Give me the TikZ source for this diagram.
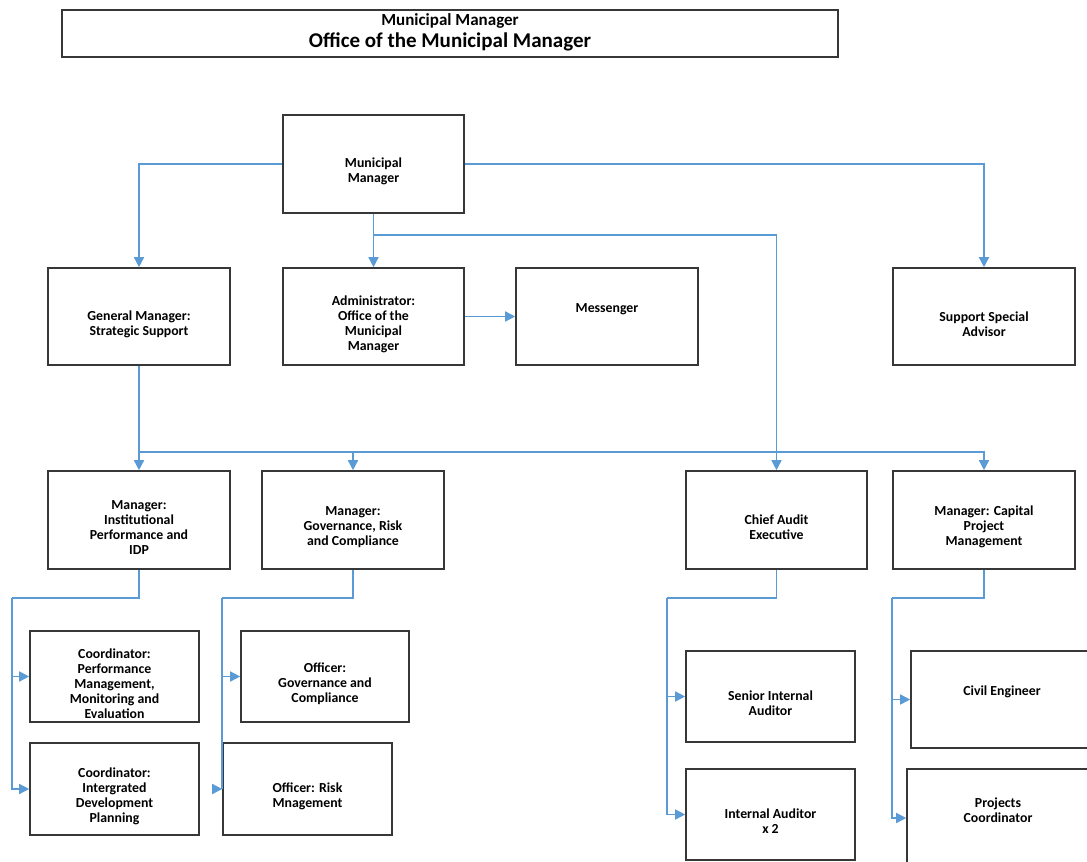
\documentclass[tikz,border=0pt]{standalone}
\usepackage{fontspec}
\setmainfont{Carlito}
\usetikzlibrary{arrows.meta}
\definecolor{linkblue}{RGB}{91,155,213}
\definecolor{boxgray}{RGB}{55,55,55}

% one organisational unit: name, x1, y1, x2, y2, caption offset (down), caption
\newcommand\orgunit[7]{%
  \node[unit, minimum width={#4-#2}, minimum height={#5-#3}] (#1) at ({(#2+#4)/2},{(#3+#5)/2}) {};
  \node[caption] (#1-t) at ([yshift={-1*(#6)}]#1.center) {#7};
}

\begin{document}
\begin{tikzpicture}[x=1pt,y=-1pt,
  unit/.style={draw=boxgray, line width=1.6pt, fill=white, rectangle, inner sep=0pt},
  caption/.style={align=center, inner sep=0pt, text=black,
    font=\bfseries\fontsize{13.8}{15}\selectfont},
  link/.style={draw=linkblue, line width=1.5pt},
  arr/.style={link, -{Triangle[length=10pt,width=10pt]}},
]
\clip (0,0) rectangle (1087,862);
\fill[white] (0,0) rectangle (1087,862);

% heading
\node[unit, minimum width=776, minimum height=47] (title) at (450,33.5) {};
\node[inner sep=0pt, font=\bfseries\fontsize{17}{20}\selectfont] (title-a) at (450,21) {Municipal Manager};
\node[inner sep=0pt, font=\bfseries\fontsize{21}{24}\selectfont] (title-b) at (450,42) {Office of the Municipal Manager};

% units
\orgunit{mm}{283}{115}{464}{213}{7}{Municipal\\Manager}
\orgunit{gm}{48}{268}{230}{365}{7.5}{General Manager:\\Strategic Support}
\orgunit{adm}{283}{268}{464}{365}{7.5}{Administrator:\\Office of the\\Municipal\\Manager}
\orgunit{msg}{516}{268}{698}{365}{-7.5}{Messenger}
\orgunit{ssa}{893}{268}{1075}{365}{7.5}{Support Special\\Advisor}
\orgunit{ip}{48}{471}{230}{569}{7.5}{Manager:\\Institutional\\Performance and\\IDP}
\orgunit{grc}{262}{471}{444}{569}{7}{Manager:\\Governance, Risk\\and Compliance}
\orgunit{cae}{686}{471}{867}{569}{7.5}{Chief Audit\\Executive}
\orgunit{cpm}{893}{471}{1075}{569}{7}{Manager: Capital\\Project\\Management}
\orgunit{pmme}{30}{631}{199}{722}{7}{Coordinator:\\Performance\\Management,\\Monitoring and\\Evaluation}
\orgunit{idp}{30}{743}{199}{835}{7}{Coordinator:\\Intergrated\\Development\\Planning}
\orgunit{ogc}{241}{631}{409}{722}{7.5}{Officer:\\Governance and\\Compliance}
\orgunit{orm}{223}{743}{392}{835}{7}{Officer: Risk\\Mnagement}
\orgunit{sia}{686}{651}{855}{742}{6.5}{Senior Internal\\Auditor}
\orgunit{ia}{686}{769}{855}{860}{7}{Internal Auditor\\x 2}
\orgunit{ce}{911}{651}{1093}{748}{-7.5}{Civil Engineer}
\orgunit{pc}{907}{769}{1089}{867}{-8}{Projects\\Coordinator}

% reporting lines from the Municipal Manager
\draw[arr] (mm.west) -| (gm.north);
\draw[arr] (mm.east) -| (ssa.north);
\draw[arr] (mm.south) -- (adm.north);
\coordinate (mmbus) at (373.5,235);
\draw[arr] (mmbus) -| (cae.north);
\draw[arr] (adm.east) -- (msg.west);

% reporting lines from the General Manager
\coordinate (gmbus) at (139,452);
\draw[arr] (gm.south) -- (ip.north);
\draw[arr] (gmbus) -| (grc.north);
\draw[arr] (gmbus) -| (cpm.north);

% Institutional Performance and IDP
\coordinate (ipbus) at (12,598);
\draw[link] (ip.south) |- (ipbus);
\draw[arr] (ipbus) |- (pmme.west);
\draw[arr] (ipbus) |- (idp.west);

% Governance, Risk and Compliance
\coordinate (grcbus) at (222,598);
\draw[link] (grc.south) |- (grcbus);
\draw[arr] (grcbus) |- (ogc.west);
\draw[link] (grcbus) -- (grcbus |- orm.west);
\draw[arr] ([xshift=-10pt]orm.west) -- (orm.west);

% Internal Audit
\coordinate (caebus) at (667,598);
\draw[link] (cae.south) |- (caebus);
\draw[arr] (caebus) |- (sia.west);
\draw[arr] (caebus) |- (ia.west);

% Capital Project Management
\coordinate (cpmbus) at (892,598);
\draw[link] (cpm.south) |- (cpmbus);
\draw[arr] (cpmbus) |- (ce.west);
\draw[arr] (cpmbus) |- (pc.west);
\end{tikzpicture}
\end{document}
